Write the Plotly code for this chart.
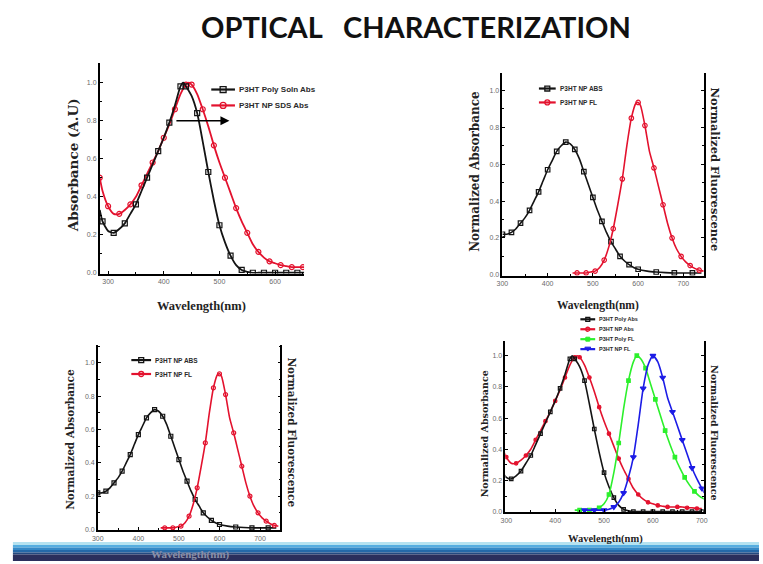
import plotly.graph_objects as go

W, H = 763, 564

# ---------------- DATA ----------------
# Panel 1 (and panel 4): P3HT Poly solution absorbance
poly_abs_wl = [285, 290, 300, 310, 320, 330, 340, 350, 360, 370, 380, 390, 400, 410, 420, 430, 435,
               440, 450, 460, 470, 480, 490, 500, 510, 520, 530, 540, 550, 560, 570, 580, 590, 600,
               610, 620, 630, 640, 650, 660, 670, 680, 690, 700]
poly_abs = [0.33, 0.27, 0.22, 0.21, 0.23, 0.26, 0.31, 0.36, 0.43, 0.50, 0.57, 0.64, 0.71, 0.79, 0.88, 0.98, 1.00,
            0.98, 0.93, 0.84, 0.69, 0.53, 0.38, 0.25, 0.16, 0.09, 0.04, 0.015, 0.005, 0.0, 0.0, 0.0, 0.0, 0.0,
            0.0, 0.0, 0.0, 0.0, 0.0, 0.0, 0.0, 0.0, 0.0, 0.0]

# Panel 1 (and panel 4): P3HT NP SDS absorbance
np_sds_wl = [285, 290, 300, 310, 320, 330, 340, 350, 360, 370, 380, 390, 400, 410, 420, 430, 440, 445,
             450, 460, 470, 480, 490, 500, 510, 520, 530, 540, 550, 560, 570, 580, 590, 600, 610, 620,
             630, 640, 650, 660, 670, 680, 690, 700]
np_sds_abs = [0.50, 0.43, 0.35, 0.31, 0.31, 0.33, 0.36, 0.40, 0.46, 0.52, 0.58, 0.64, 0.71, 0.78, 0.86, 0.94, 0.99, 1.00,
              0.99, 0.94, 0.86, 0.77, 0.67, 0.58, 0.50, 0.42, 0.34, 0.27, 0.21, 0.15, 0.11, 0.08, 0.06, 0.05, 0.04, 0.035,
              0.03, 0.03, 0.03, 0.03, 0.025, 0.025, 0.02, 0.02]

# Panels 2 & 3: P3HT NP ABS / FL
np_abs_wl = [300, 310, 320, 330, 340, 350, 360, 370, 380, 390, 400, 410, 420, 430, 440, 450, 460, 470,
             480, 490, 500, 510, 520, 530, 540, 550, 560, 570, 580, 590, 600, 620, 640, 660, 680, 700,
             720, 740]
np_abs = [0.22, 0.22, 0.23, 0.25, 0.28, 0.31, 0.35, 0.40, 0.45, 0.51, 0.57, 0.62, 0.67, 0.70, 0.72, 0.71, 0.68, 0.63,
          0.56, 0.49, 0.42, 0.35, 0.29, 0.23, 0.18, 0.14, 0.10, 0.075, 0.055, 0.04, 0.03, 0.02, 0.015, 0.012, 0.01, 0.01,
          0.01, 0.01]
np_fl_wl = [455, 465, 475, 485, 495, 505, 515, 525, 535, 545, 555, 565, 575, 585, 595, 600, 605, 615,
            625, 635, 645, 655, 665, 675, 685, 695, 705, 715, 725, 735, 745]
np_fl = [0.01, 0.01, 0.01, 0.01, 0.015, 0.02, 0.04, 0.08, 0.15, 0.25, 0.38, 0.52, 0.70, 0.85, 0.93, 0.935, 0.92, 0.81,
         0.67, 0.58, 0.48, 0.38, 0.28, 0.20, 0.14, 0.10, 0.07, 0.05, 0.035, 0.025, 0.02]

# Panel 4: fluorescence
poly_fl_wl = [440, 450, 460, 470, 480, 490, 500, 510, 520, 530, 540, 550, 560, 567, 575, 585, 595, 605,
              615, 625, 635, 645, 655, 665, 675, 685, 695, 705]
poly_fl = [0.01, 0.01, 0.01, 0.01, 0.015, 0.025, 0.05, 0.11, 0.25, 0.44, 0.66, 0.84, 0.96, 1.00, 0.98, 0.92, 0.82, 0.72,
           0.62, 0.52, 0.43, 0.35, 0.28, 0.22, 0.17, 0.13, 0.10, 0.08]
np_fl4_wl = [460, 470, 480, 490, 500, 510, 520, 530, 540, 550, 560, 570, 580, 590, 600, 610, 620, 630,
             640, 650, 660, 670, 680, 690, 700, 705]
np_fl4 = [0.01, 0.01, 0.01, 0.01, 0.01, 0.015, 0.03, 0.06, 0.12, 0.22, 0.35, 0.56, 0.79, 0.94, 1.00, 0.96, 0.86, 0.73,
          0.64, 0.55, 0.46, 0.37, 0.28, 0.21, 0.15, 0.12]

# red-shift arrow in panel 1
arrow_x = [420, 518]
arrow_y = 0.80

x_ticks_p1 = [300, 400, 500, 600]
x_ticks = [300, 400, 500, 600, 700]
y_ticks = [0.0, 0.2, 0.4, 0.6, 0.8, 1.0]

# ---------------- STYLE ----------------
BLACK = "#141414"
RED = "#e3122e"
GREEN = "#2cf02c"
BLUE = "#1c1ce6"
TICKFONT = dict(family="Liberation Sans, Arial, sans-serif", size=7, color="#6a6a6a")


def px(x):
    return x / W


def py(y):
    return 1 - y / H


fig = go.Figure()


def add_series(xs, ys, color, symbol, axes, maxd, lw=1.8, msize=5):
    fig.add_trace(go.Scatter(
        x=xs, y=ys, mode="lines+markers", xaxis=axes[0], yaxis=axes[1],
        line=dict(color=color, width=lw, shape="spline", smoothing=0.6),
        marker=dict(symbol=symbol, size=msize, color=color, maxdisplayed=maxd,
                    line=dict(color=color, width=1.2)),
        showlegend=False, hoverinfo="skip"))


# panel 1
add_series(np_sds_wl, np_sds_abs, RED, "circle-open", ("x", "y"), 30)
add_series(poly_abs_wl, poly_abs, BLACK, "square-open", ("x", "y"), 30)
# panel 2
add_series(np_abs_wl, np_abs, BLACK, "square-open", ("x2", "y2"), 30, lw=1.6, msize=4.5)
add_series(np_fl_wl, np_fl, RED, "circle-open", ("x2", "y2"), 22, lw=1.6, msize=4.5)
# panel 3
add_series(np_abs_wl, np_abs, BLACK, "square-open", ("x3", "y3"), 30, lw=1.6, msize=4)
add_series(np_fl_wl, np_fl, RED, "circle-open", ("x3", "y3"), 22, lw=1.6, msize=4)
# panel 4
add_series(np_sds_wl, np_sds_abs, RED, "circle", ("x4", "y4"), 30, lw=1.6, msize=3.5)
add_series(poly_abs_wl, poly_abs, BLACK, "square-open", ("x4", "y4"), 30, lw=1.6, msize=3.5)
add_series(poly_fl_wl, poly_fl, GREEN, "square", ("x4", "y4"), 18, lw=1.6, msize=3.5)
add_series(np_fl4_wl, np_fl4, BLUE, "triangle-down", ("x4", "y4"), 14, lw=1.6, msize=5)


def xaxis(dom, rng, ticks):
    return dict(domain=[px(dom[0]), px(dom[1])], range=rng, tickvals=ticks,
                showgrid=False, zeroline=False, showline=True, linecolor="#000", linewidth=2,
                ticks="inside", ticklen=3, tickcolor="#000", tickwidth=1,
                minor=dict(ticks="inside", ticklen=2, dtick=50, tickcolor="#000"),
                tickfont=TICKFONT)


def yaxis(dom, rng, anchor, mirror):
    d = dict(domain=[py(dom[1]), py(dom[0])], range=rng, tickvals=y_ticks, tickformat=".1f",
             anchor=anchor, showgrid=False, zeroline=False, showline=True, linecolor="#000",
             linewidth=1.5, ticks="inside", ticklen=3, tickcolor="#000", tickwidth=1,
             minor=dict(ticks="inside", ticklen=2, dtick=0.1, tickcolor="#000"),
             tickfont=TICKFONT)
    if mirror:
        d["mirror"] = "ticks"
    return d


layout = dict(
    width=W, height=H, margin=dict(l=0, r=0, t=0, b=0),
    paper_bgcolor="white", plot_bgcolor="white", showlegend=False,
    xaxis=xaxis((95, 302), [285, 652], x_ticks_p1),
    yaxis=yaxis((63, 275), [-0.004, 1.105], "x", False),
    xaxis2=xaxis((503, 707), [300, 745], x_ticks),
    yaxis2=yaxis((73, 277), [-0.004, 1.097], "x2", True),
    xaxis3=xaxis((93, 278), [300, 750], x_ticks),
    yaxis3=yaxis((347, 533), [-0.004, 1.107], "x3", True),
    xaxis4=xaxis((506, 707), [298, 704], x_ticks),
    yaxis4=yaxis((343, 515), [-0.004, 1.093], "x4", True),
)
layout["xaxis"]["anchor"] = "y"
layout["xaxis2"]["anchor"] = "y2"
layout["xaxis3"]["anchor"] = "y3"
layout["xaxis4"]["anchor"] = "y4"
fig.update_layout(**layout)

annotations = []
shapes = []

# arrow in panel 1
annotations.append(dict(x=arrow_x[1], y=arrow_y, ax=arrow_x[0], ay=arrow_y, xref="x", yref="y",
                        axref="x", ayref="y", showarrow=True, arrowhead=2, arrowsize=1.2,
                        arrowwidth=1.5, arrowcolor="#000", text=""))

# title
annotations.append(dict(x=px(415), y=py(27), xref="paper", yref="paper", showarrow=False,
                        text="<b>OPTICAL\u00a0\u00a0\u00a0CHARACTERIZATION</b>",
                        font=dict(family="Lato, sans-serif", size=29, color="#111"),
                        xanchor="center", yanchor="middle"))

XT = "Liberation Serif, Times New Roman, serif"
YT = "DejaVu Serif, Liberation Serif, serif"


def ann(x, y, text, size, fam, angle=0, color="#222", xanchor="center"):
    annotations.append(dict(x=px(x), y=py(y), xref="paper", yref="paper", showarrow=False,
                            text="<b>" + text + "</b>", textangle=angle,
                            font=dict(family=fam, size=size, color=color),
                            xanchor=xanchor, yanchor="middle"))


# axis titles
ann(198, 308, "Wavelength(nm)", 12.5, XT)
ann(68, 166, "Absorbance (A.U)", 13.5, YT, -90)
ann(600, 307, "Wavelength(nm)", 11.5, XT)
ann(475, 172, "Normalized Absorbance", 12, YT, -90)
ann(718, 170, "Normalized Fluorescence", 11.5, YT, 90)
ann(65, 442, "Normalized Absorbance", 10.5, YT, -90)
ann(290, 435, "Normalized Fluorescence", 10.5, YT, 90)
ann(607, 542, "Wavelength(nm)", 10.5, XT)
ann(485, 436, "Normalized Absorbance", 9.5, YT, -90)
ann(718, 435, "Normalized Fluorescence", 9.5, YT, 90)


def legend_row(x0, x1, xt, y, color, symbol, ms, text, fs):
    shapes.append(dict(type="line", xref="paper", yref="paper", x0=px(x0), x1=px(x1),
                       y0=py(y), y1=py(y), line=dict(color=color, width=2.2)))
    xm = (x0 + x1) / 2
    h = ms / 2
    if symbol == "circle":
        shapes.append(dict(type="circle", xref="paper", yref="paper", x0=px(xm - h), x1=px(xm + h),
                           y0=py(y + h), y1=py(y - h), line=dict(color=color, width=1.3),
                           fillcolor="rgba(0,0,0,0)"))
    elif symbol == "square":
        shapes.append(dict(type="rect", xref="paper", yref="paper", x0=px(xm - h), x1=px(xm + h),
                           y0=py(y + h), y1=py(y - h), line=dict(color=color, width=1.3),
                           fillcolor="rgba(0,0,0,0)"))
    elif symbol == "fsquare":
        shapes.append(dict(type="rect", xref="paper", yref="paper", x0=px(xm - h), x1=px(xm + h),
                           y0=py(y + h), y1=py(y - h), line=dict(color=color, width=1),
                           fillcolor=color))
    elif symbol == "tri":
        path = "M {} {} L {} {} L {} {} Z".format(px(xm - h - 1), py(y - h), px(xm + h + 1), py(y - h),
                                                 px(xm), py(y + h))
        shapes.append(dict(type="path", xref="paper", yref="paper", path=path,
                           line=dict(color=color, width=1), fillcolor=color))
    annotations.append(dict(x=px(xt), y=py(y), xref="paper", yref="paper", showarrow=False,
                            text="<b>" + text + "</b>", xanchor="left", yanchor="middle",
                            font=dict(family="Liberation Sans, Arial, sans-serif", size=fs, color="#2a2a2a")))


legend_row(208, 232, 234, 90, BLACK, "square", 6, "P3HT Poly Soln Abs", 8)
legend_row(208, 232, 234, 106, RED, "circle", 6, "P3HT NP SDS Abs", 8)
legend_row(540, 557, 559, 89, BLACK, "square", 5, "P3HT NP ABS", 6.5)
legend_row(540, 557, 559, 103, RED, "circle", 5, "P3HT NP FL", 6.5)
legend_row(127, 147, 149, 362, BLACK, "square", 5, "P3HT NP ABS", 6.5)
legend_row(127, 147, 149, 376, RED, "circle", 5, "P3HT NP FL", 6.5)
legend_row(582, 597, 599, 321, BLACK, "square", 4, "P3HT Poly Abs", 5.5)
legend_row(582, 597, 599, 331, RED, "circle", 4, "P3HT NP Abs", 5.5)
legend_row(582, 597, 599, 341, GREEN, "fsquare", 4, "P3HT Poly FL", 5.5)
legend_row(582, 597, 599, 351, BLUE, "tri", 4, "P3HT NP FL", 5.5)

# bottom slide bar
bands = [(545, 548, "#b5e2f0"), (548, 550.5, "#55ade0"), (550.5, 553, "#3589c6"),
         (553, 555.5, "#2569a8"), (555.5, 557.5, "#24497f"), (557.5, 564, "#2b2f5c")]
for y0, y1, c in bands:
    shapes.append(dict(type="rect", xref="paper", yref="paper", x0=px(7), x1=1.0,
                       y0=py(y1), y1=py(y0), fillcolor=c, line=dict(width=0), layer="above"))

# faint caption showing through the bar
ann(145, 557, "Wavelength(nm)", 11, XT, 0, "#8a8fa8", "left")

fig.update_layout(annotations=annotations, shapes=shapes)
fig.write_html("out.html")
